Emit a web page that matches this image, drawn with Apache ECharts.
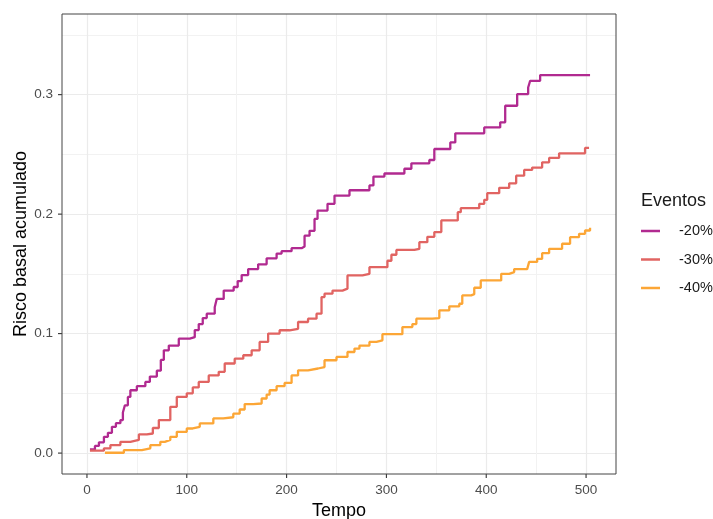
<!DOCTYPE html>
<html>
<head>
<meta charset="utf-8">
<script src="https://cdn.jsdelivr.net/npm/echarts@6/dist/echarts.min.js"></script>
<style>
  html, body { margin: 0; padding: 0; background: #fff; }
  #chart { width: 713px; height: 519px; }
</style>
</head>
<body>
<div id="chart"></div>
<script>
// Cumulative baseline hazard by event group (step curves)
const tempo20 = [3, 8, 12, 17, 21, 25, 29, 33.5, 36, 38, 41, 43.5, 50, 58.5, 63, 70, 74, 77, 82, 92, 103, 108, 112, 116, 120, 128, 130, 137, 147, 151, 155, 161.5, 171.5, 180, 190, 195, 205, 215, 218, 223, 228, 231, 241, 248, 263, 283, 287, 298, 318, 325, 343, 348, 364, 369, 398, 414, 419, 431, 442, 444, 454, 504];
const risco20 = [0.003, 0.006, 0.009, 0.0136, 0.017, 0.022, 0.025, 0.0276, 0.034, 0.040, 0.047, 0.0526, 0.056, 0.0596, 0.064, 0.069, 0.078, 0.086, 0.090, 0.0958, 0.097, 0.103, 0.108, 0.113, 0.1167, 0.122, 0.129, 0.136, 0.139, 0.144, 0.149, 0.154, 0.158, 0.163, 0.167, 0.169, 0.1715, 0.173, 0.182, 0.186, 0.196, 0.203, 0.2086, 0.2155, 0.220, 0.224, 0.2314, 0.234, 0.238, 0.2425, 0.2453, 0.2545, 0.260, 0.2676, 0.2726, 0.2768, 0.2907, 0.3005, 0.306, 0.3116, 0.3164, 0.3164];

const tempo30 = [3, 17, 23.5, 33.5, 43.5, 52, 60, 66, 72, 83.5, 90, 100, 106, 112, 122, 132, 138, 148, 156.6, 165, 173, 181.5, 193, 203, 211.5, 221.5, 230, 235, 238, 246, 256, 261, 276, 283, 301, 305, 310, 328, 333, 341, 348, 355, 371.5, 374.5, 393, 398, 401, 413, 423, 430, 438, 446, 456, 463, 473, 499, 503];
const risco30 = [0.002, 0.004, 0.0067, 0.0094, 0.011, 0.0156, 0.0164, 0.021, 0.0276, 0.0387, 0.047, 0.050, 0.055, 0.0596, 0.065, 0.068, 0.075, 0.079, 0.0819, 0.086, 0.093, 0.100, 0.1028, 0.104, 0.1097, 0.1125, 0.1167, 0.1306, 0.1334, 0.136, 0.1376, 0.1487, 0.150, 0.1556, 0.161, 0.166, 0.170, 0.171, 0.1765, 0.181, 0.185, 0.1947, 0.2016, 0.205, 0.2086, 0.212, 0.2175, 0.222, 0.2258, 0.2322, 0.237, 0.239, 0.2434, 0.247, 0.2509, 0.2554, 0.2554];

const tempo40 = [18, 37, 55, 63.5, 73.5, 78, 83.5, 90, 100, 106, 113, 126.6, 136.6, 146.6, 153, 158, 166.6, 175, 180, 183, 190, 198, 205, 211.5, 221.5, 231.5, 238, 250, 261, 268, 273, 283, 290, 296, 316, 326, 330, 346, 353, 363, 373, 376, 385, 388, 394.5, 415, 423, 428, 441, 443, 451, 456, 463, 476, 484, 493, 499, 504];
const risco40 = [0.0003, 0.0025, 0.004, 0.0067, 0.0094, 0.011, 0.0136, 0.0178, 0.0206, 0.022, 0.0248, 0.029, 0.030, 0.033, 0.0365, 0.041, 0.0415, 0.0457, 0.049, 0.0526, 0.056, 0.0587, 0.065, 0.0693, 0.0708, 0.072, 0.0777, 0.0805, 0.0846, 0.0875, 0.090, 0.093, 0.0944, 0.0995, 0.1055, 0.108, 0.1125, 0.113, 0.1195, 0.1228, 0.125, 0.132, 0.133, 0.1384, 0.1445, 0.150, 0.1515, 0.154, 0.1556, 0.160, 0.1626, 0.1673, 0.171, 0.1752, 0.1807, 0.1835, 0.1863, 0.1885];

const grupos = ['-20%', '-30%', '-40%'];
const cores = ['#B12A90', '#E16462', '#FCA636'];

const xTicks = [0, 100, 200, 300, 400, 500];
const xMinor = [50, 150, 250, 350, 450];
const yTicks = [0, 0.1, 0.2, 0.3];
const yMinor = [0.05, 0.15, 0.25, 0.35];

const zip = (xs, ys) => xs.map((x, i) => [x, ys[i]]);
const seriesData = [zip(tempo20, risco20), zip(tempo30, risco30), zip(tempo40, risco40)];

const X_MIN = -25, X_MAX = 530, Y_MIN = -0.0175, Y_MAX = 0.3675;
const FONT = 'Liberation Sans, Arial, sans-serif';
const TICK_LEN = 4;

const chart = echarts.init(document.getElementById('chart'), null, { renderer: 'canvas' });

// Minor grid lines only: hidden axes whose split lines sit at the half steps
const minorAxisBase = {
  show: true,
  axisLine: { show: false, onZero: false },
  axisLabel: { show: false },
  splitLine: { show: true, lineStyle: { color: '#F2F2F2', width: 1 } }
};

// Outward tick marks along the panel's bottom and left edges
function tickSeries(values, onX) {
  return {
    type: 'custom',
    silent: true,
    clip: false,
    z: 8,
    data: values.map(v => [v]),
    renderItem: (params, api) => {
      const v = api.value(0);
      const p = onX ? api.coord([v, Y_MIN]) : api.coord([X_MIN, v]);
      const shape = onX
        ? { x1: p[0], y1: p[1], x2: p[0], y2: p[1] + TICK_LEN }
        : { x1: p[0], y1: p[1], x2: p[0] - TICK_LEN, y2: p[1] };
      return { type: 'line', shape, style: { stroke: '#333333', lineWidth: 1.1 } };
    }
  };
}

chart.setOption({
  animation: false,
  backgroundColor: '#ffffff',
  title: {
    text: 'Eventos',
    left: 636, top: 187,
    textStyle: { fontFamily: FONT, fontSize: 18, fontWeight: 'normal', color: '#1a1a1a' }
  },
  legend: {
    data: grupos,
    orient: 'vertical',
    left: 636, top: 218,
    itemWidth: 19, itemHeight: 2.5,
    itemGap: 12.5,
    icon: 'rect',
    textStyle: { fontFamily: FONT, fontSize: 14.5, color: '#1a1a1a', padding: [0, 0, 0, 14], lineHeight: 16 }
  },
  grid: {
    left: 62, right: 97, top: 14, bottom: 45,
    outerBoundsMode: 'none', containLabel: false,
    show: true, borderColor: '#444444', borderWidth: 1, z: 10
  },
  xAxis: [
    {
      type: 'value', min: X_MIN, max: X_MAX, position: 'bottom',
      name: 'Tempo', nameLocation: 'middle', nameGap: 28, nameMoveOverlap: false,
      nameTextStyle: { fontFamily: FONT, fontSize: 18, color: '#000' },
      axisLine: { show: false, onZero: false },
      axisTick: { show: false, customValues: xTicks },
      axisLabel: { customValues: xTicks, fontFamily: FONT, fontSize: 13.5, color: '#4D4D4D', margin: 9 },
      splitLine: { show: true, lineStyle: { color: '#EBEBEB', width: 1.2 } }
    },
    Object.assign({
      type: 'value', min: X_MIN, max: X_MAX, position: 'top',
      axisTick: { show: false, customValues: xMinor }
    }, minorAxisBase)
  ],
  yAxis: [
    {
      type: 'value', min: Y_MIN, max: Y_MAX, position: 'left',
      name: 'Risco basal acumulado', nameLocation: 'middle', nameGap: 32, nameMoveOverlap: false,
      nameTextStyle: { fontFamily: FONT, fontSize: 18, color: '#000' },
      axisLine: { show: false, onZero: false },
      axisTick: { show: false, customValues: yTicks },
      axisLabel: { customValues: yTicks, fontFamily: FONT, fontSize: 13.5, color: '#4D4D4D', margin: 9,
                   formatter: v => v.toFixed(1) },
      splitLine: { show: true, lineStyle: { color: '#EBEBEB', width: 1.2 } }
    },
    Object.assign({
      type: 'value', min: Y_MIN, max: Y_MAX, position: 'right',
      axisTick: { show: false, customValues: yMinor }
    }, minorAxisBase)
  ],
  series: grupos.map((g, i) => ({
    name: g,
    type: 'line',
    step: 'end',
    data: seriesData[i],
    showSymbol: false,
    symbol: 'none',
    color: cores[i],
    lineStyle: { color: cores[i], width: 2.3 },
    itemStyle: { color: cores[i] },
    z: 5
  })).concat([tickSeries(xTicks, true), tickSeries(yTicks, false)])
});
</script>
</body>
</html>
